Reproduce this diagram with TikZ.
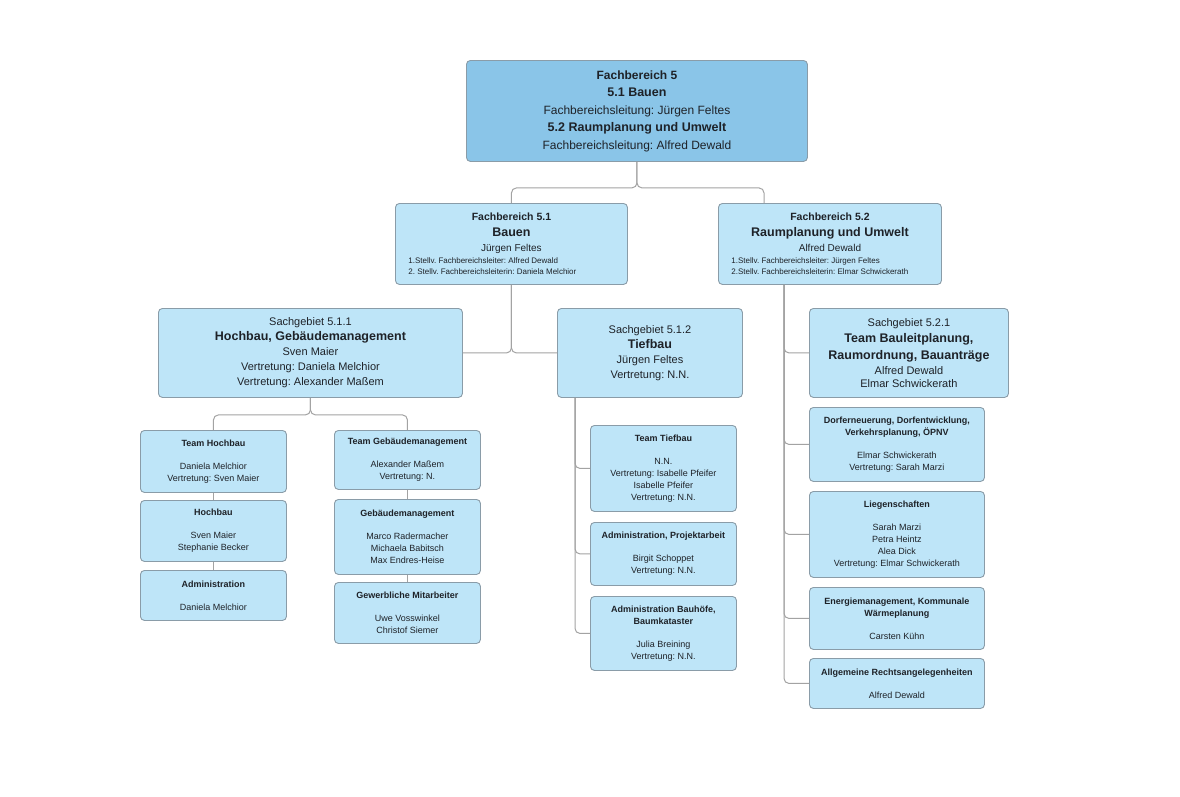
\documentclass[tikz,border=0pt]{standalone}
\usepackage{fontspec}
\setmainfont{Liberation Sans}
\definecolor{boxfill}{HTML}{BEE5F8}
\definecolor{topfill}{HTML}{8AC5E8}
\definecolor{boxdraw}{HTML}{8A9CA8}
\definecolor{linec}{HTML}{A3A3A3}
\definecolor{txt}{HTML}{1E2228}
\newcommand\myfs[2]{\fontsize{#1}{#2}\selectfont}
\frenchspacing
\begin{document}
\frenchspacing
\begin{tikzpicture}[x=1pt,y=-1pt,
  box/.style={draw=boxdraw, fill=boxfill, line width=0.9pt, rounded corners=4pt,
    anchor=north west, align=center, inner sep=0pt, text=txt},
  topbox/.style={box, fill=topfill, font=\myfs{12}{17.5}\frenchspacing},
  lvtwo/.style={box, font=\myfs{10}{15}\frenchspacing},
  lvthree/.style={box, font=\myfs{11}{15}\frenchspacing},
  small/.style={box, minimum width=146pt, font=\myfs{9}{12}\frenchspacing},
  conn/.style={draw=linec, line width=1pt, rounded corners=5pt}]
\fill[white] (0,0) rectangle (1180,796);
\useasboundingbox (0,0) rectangle (1180,796);

% level 1
\node[topbox, minimum width=341pt, minimum height=101pt] (top) at (466,60)
 {{\bfseries Fachbereich 5}\\
  {\bfseries\myfs{12.5}{17.5}5.1 Bauen}\\
  Fachbereichsleitung: Jürgen Feltes\\
  {\bfseries\myfs{12.5}{17.5}5.2 Raumplanung und Umwelt}\\
  Fachbereichsleitung: Alfred Dewald};

% level 2
\node[lvtwo, minimum width=232pt, minimum height=81pt] (fba) at (395,203)
 {{\bfseries\myfs{10.5}{15}Fachbereich 5.1}\\[1pt]
  {\bfseries\myfs{12.5}{15}Bauen}\\
  Jürgen Feltes\\[-3.5pt]
  \makebox[206pt][l]{\myfs{8}{11}1.Stellv. Fachbereichsleiter: Alfred Dewald}\\[-4pt]
  \makebox[206pt][l]{\myfs{8}{11}2. Stellv. Fachbereichsleiterin: Daniela Melchior}};
\node[lvtwo, minimum width=223pt, minimum height=81pt] (fbb) at (718,203)
 {{\bfseries\myfs{10.5}{15}Fachbereich 5.2}\\[1pt]
  {\bfseries\myfs{12.5}{15}Raumplanung und Umwelt}\\
  Alfred Dewald\\[-3.5pt]
  \makebox[197pt][l]{\myfs{8}{11}1.Stellv. Fachbereichsleiter: Jürgen Feltes}\\[-4pt]
  \makebox[197pt][l]{\myfs{8}{11}2.Stellv. Fachbereichsleiterin: Elmar Schwickerath}};

% level 3
\node[lvthree, minimum width=304pt, minimum height=89pt] (hoch) at (158,308)
 {Sachgebiet 5.1.1\\
  {\bfseries\myfs{12.5}{15}Hochbau, Gebäudemanagement}\\
  Sven Maier\\
  Vertretung: Daniela Melchior\\
  Vertretung: Alexander Maßem};
\node[lvthree, minimum width=185pt, minimum height=89pt] (tief) at (557,308)
 {Sachgebiet 5.1.2\\
  {\bfseries\myfs{12.5}{15}Tiefbau}\\
  Jürgen Feltes\\
  Vertretung: N.N.};
\node[lvthree, minimum width=199pt, minimum height=89pt] (raum) at (809,308)
 {Sachgebiet 5.2.1\\[1pt]
  {\bfseries\myfs{12.5}{15}Team Bauleitplanung,}\\[2pt]
  {\bfseries\myfs{12.5}{15}Raumordnung, Bauanträge}\\
  Alfred Dewald\\[-2pt]
  Elmar Schwickerath};

% left column
\node[small, minimum height=62pt] (th) at (140,430)
 {{\bfseries Team Hochbau}\\[11pt]
  Daniela Melchior\\ Vertretung: Sven Maier};
\node[small, minimum height=61pt] (hb) at (140,500)
 {{\bfseries Hochbau}\\[11pt]
  Sven Maier\\ Stephanie Becker};
\node[small, minimum height=50pt] (adm) at (140,570)
 {{\bfseries Administration}\\[11pt]
  Daniela Melchior};

\node[small, minimum height=59pt] (tg) at (334,430)
 {{\bfseries Team Gebäudemanagement}\\[11pt]
  Alexander Maßem\\ Vertretung: N.};
\node[small, minimum height=75pt] (gb) at (334,499)
 {{\bfseries Gebäudemanagement}\\[11pt]
  Marco Radermacher\\ Michaela Babitsch\\ Max Endres-Heise};
\node[small, minimum height=61pt] (gw) at (334,582)
 {{\bfseries Gewerbliche Mitarbeiter}\\[11pt]
  Uwe Vosswinkel\\ Christof Siemer};

% middle column
\node[small, minimum height=86pt] (tt) at (590,425)
 {{\bfseries Team Tiefbau}\\[11pt]
  N.N.\\ Vertretung: Isabelle Pfeifer\\ Isabelle Pfeifer\\ Vertretung: N.N.};
\node[small, minimum height=63pt] (ap) at (590,522)
 {{\bfseries Administration, Projektarbeit}\\[11pt]
  Birgit Schoppet\\ Vertretung: N.N.};
\node[small, minimum height=74pt] (ab) at (590,596)
 {{\bfseries Administration Bauhöfe,}\\
  {\bfseries Baumkataster}\\[11pt]
  Julia Breining\\ Vertretung: N.N.};

% right column
\node[small, minimum width=175pt, minimum height=74pt] (dorf) at (809,407)
 {{\bfseries Dorferneuerung, Dorfentwicklung,}\\
  {\bfseries Verkehrsplanung, ÖPNV}\\[11pt]
  Elmar Schwickerath\\ Vertretung: Sarah Marzi};
\node[small, minimum width=175pt, minimum height=86pt] (lieg) at (809,491)
 {{\bfseries Liegenschaften}\\[11pt]
  Sarah Marzi\\ Petra Heintz\\ Alea Dick\\ Vertretung: Elmar Schwickerath};
\node[small, minimum width=175pt, minimum height=62pt] (energ) at (809,587)
 {{\bfseries Energiemanagement, Kommunale}\\
  {\bfseries Wärmeplanung}\\[11pt]
  Carsten Kühn};
\node[small, minimum width=175pt, minimum height=50pt] (allg) at (809,658)
 {{\bfseries Allgemeine Rechtsangelegenheiten}\\[11pt]
  Alfred Dewald};

% connectors
\draw[conn] (top.south) -- ++(0,26) -| (fba.north);
\draw[conn] (top.south) -- ++(0,26) -| ([xshift=46pt]fbb.north west);

\draw[conn] (fba.south) |- (hoch.east);
\draw[conn] (fba.south) |- (tief.west);

\draw[conn] (hoch.south) -- ++(0,17) -| (th.north);
\draw[conn] (hoch.south) -- ++(0,17) -| (tg.north);
\draw[conn] (th.south) -- (hb.north);
\draw[conn] (hb.south) -- (adm.north);
\draw[conn] (tg.south) -- (gb.north);
\draw[conn] (gb.south) -- (gw.north);

\draw[conn] ([xshift=18pt]tief.south west) |- (tt.west);
\draw[conn] ([xshift=18pt]tief.south west) |- (ap.west);
\draw[conn] ([xshift=18pt]tief.south west) |- (ab.west);

\draw[conn] ([xshift=66pt]fbb.south west) |- (raum.west);
\draw[conn] ([xshift=66pt]fbb.south west) |- (dorf.west);
\draw[conn] ([xshift=66pt]fbb.south west) |- (lieg.west);
\draw[conn] ([xshift=66pt]fbb.south west) |- (energ.west);
\draw[conn] ([xshift=66pt]fbb.south west) |- (allg.west);
\end{tikzpicture}
\end{document}
